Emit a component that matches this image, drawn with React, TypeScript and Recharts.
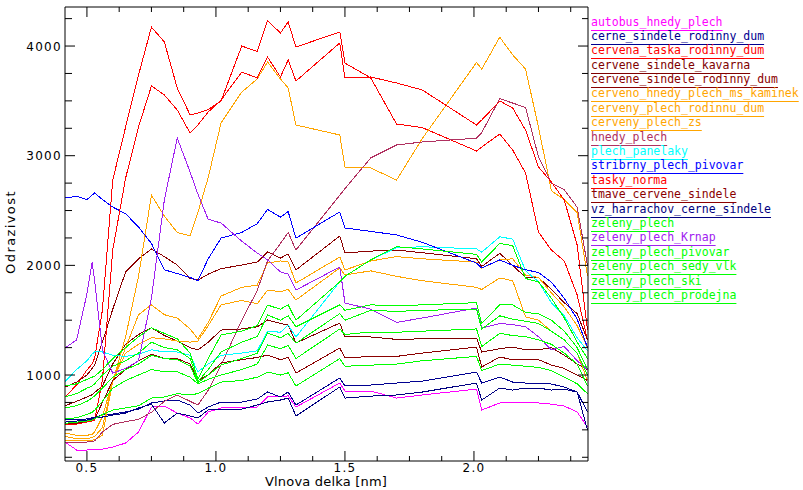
import React from 'react';
import { LineChart, Line, XAxis, YAxis } from 'recharts';

// wavelength grid [um] shared by all spectra
const wavelengths = [0.415, 0.46, 0.5, 0.52, 0.53, 0.56, 0.6, 0.65, 0.7, 0.75, 0.8, 0.85, 0.9, 0.93, 0.97, 1.02, 1.1, 1.16, 1.2, 1.25, 1.28, 1.31, 1.48, 1.5, 1.6, 1.7, 1.8, 2.01, 2.03, 2.1, 2.15, 2.2, 2.25, 2.3, 2.35, 2.4, 2.44];

const autobusHnedyPlech = [389, 316, 316, 320, 325, 325, 343, 380, 480, 708, 717, 653, 608, 553, 663, 700, 708, 708, 800, 800, 810, 708, 927, 854, 854, 790, 818, 872, 681, 745, 745, 745, 745, 735, 717, 663, 526];
const cerneSindeleRodinnyDum = [590, 590, 600, 610, 617, 635, 644, 663, 690, 745, 763, 772, 726, 653, 708, 754, 754, 781, 845, 800, 845, 726, 973, 900, 909, 927, 945, 1027, 927, 982, 936, 927, 927, 918, 890, 845, 663];
const cervenaTaskaRodinnyDum = [800, 909, 1046, 1100, 1155, 1593, 2778, 3262, 3736, 4173, 4037, 3617, 3371, 3389, 3420, 3500, 4000, 3950, 4230, 4120, 4219, 3991, 4128, 3845, 3709, 3289, 3256, 3043, 3079, 3198, 3052, 2842, 2304, 2140, 2040, 1730, 1319];
const cerveneSindeleKavarna = [720, 760, 800, 820, 840, 900, 1100, 1280, 1370, 1430, 1360, 1310, 1250, 1228, 1300, 1410, 1420, 1440, 1502, 1470, 1456, 1292, 1474, 1347, 1347, 1325, 1330, 1337, 1210, 1240, 1255, 1230, 1230, 1250, 1180, 1100, 1050];
const cerveneSindeleRodinnyDum = [890, 936, 1000, 1060, 1090, 1300, 1600, 1940, 2060, 2150, 2080, 2003, 1880, 1866, 1920, 1970, 2003, 2030, 2122, 2067, 2103, 1958, 2268, 2113, 2130, 2140, 2115, 2060, 1990, 2110, 2000, 1890, 1890, 1780, 1660, 1560, 1320];
const cervenoHnedyPlechMsKaminek = [407, 400, 400, 405, 410, 450, 940, 1350, 1900, 2640, 2450, 2300, 2270, 2480, 2800, 3300, 3580, 3700, 3855, 3700, 3617, 3280, 3189, 2897, 2888, 2778, 3157, 3850, 3790, 4080, 3920, 3790, 3262, 2680, 2600, 2480, 1900];
const cervenyPlechRodinnuDum = [470, 450, 450, 460, 480, 620, 950, 1250, 1550, 1640, 1550, 1520, 1420, 1330, 1480, 1720, 1800, 1820, 2021, 2040, 2030, 1839, 2076, 1958, 2040, 2080, 2060, 2030, 1976, 2049, 2060, 1912, 1890, 1750, 1620, 1450, 1250];
const cervenyPlechZs = [440, 420, 420, 430, 440, 520, 950, 1200, 1280, 1340, 1330, 1310, 1300, 1310, 1450, 1640, 1680, 1650, 1775, 1760, 1780, 1684, 1976, 1912, 1950, 1900, 1860, 1800, 1780, 1885, 1860, 1530, 1500, 1400, 1320, 1200, 950];
const hnedyPlech = [389, 389, 389, 392, 400, 480, 550, 575, 595, 660, 760, 818, 760, 726, 860, 1090, 1500, 1770, 2040, 2200, 2300, 2140, 2640, 2700, 2980, 3098, 3125, 3160, 3210, 3520, 3480, 3440, 2990, 2750, 2690, 2530, 2000];
const plechPanelaky = [940, 1050, 1130, 1190, 1210, 1210, 1180, 1170, 1190, 1230, 1210, 1210, 1180, 1030, 1100, 1180, 1200, 1220, 1400, 1390, 1456, 1347, 1850, 1900, 2050, 2160, 2170, 2150, 2120, 2260, 2240, 1950, 1850, 1660, 1540, 1340, 1220];
const stribrnyPlechPivovar = [2614, 2630, 2600, 2640, 2660, 2600, 2532, 2470, 2350, 2200, 1960, 1925, 1890, 1860, 2060, 2249, 2300, 2380, 2510, 2440, 2490, 2249, 2487, 2341, 2310, 2277, 2210, 2021, 1976, 2050, 2000, 1960, 1935, 1848, 1700, 1510, 1250];
const taskyNorma = [544, 553, 571, 580, 590, 954, 2140, 2797, 3262, 3636, 3554, 3417, 3207, 3280, 3398, 3508, 3763, 3709, 3900, 3718, 3873, 3681, 4028, 3709, 3718, 3663, 3599, 3280, 3325, 3499, 3435, 3234, 2897, 2760, 2596, 2186, 1410];
const tmaveCerveneSindele = [560, 560, 580, 590, 600, 750, 950, 1050, 1130, 1190, 1150, 1150, 1100, 950, 1000, 1110, 1140, 1160, 1182, 1140, 1160, 1018, 1246, 1155, 1170, 1170, 1200, 1255, 1073, 1164, 1140, 1140, 1140, 1091, 1060, 1000, 950];
const vzHarrachovCerneSindele = [571, 580, 590, 600, 608, 617, 635, 653, 699, 735, 562, 653, 626, 608, 681, 690, 690, 726, 754, 772, 790, 626, 891, 790, 808, 818, 845, 927, 772, 881, 863, 881, 881, 863, 870, 845, 498];
const zelenyPlech = [800, 830, 880, 900, 920, 1000, 1080, 1130, 1200, 1300, 1250, 1230, 1150, 940, 1050, 1210, 1300, 1350, 1547, 1500, 1540, 1440, 1640, 1590, 1640, 1630, 1640, 1660, 1470, 1640, 1640, 1570, 1560, 1500, 1400, 1250, 1050];
const zelenyPlechKrnap = [1246, 1320, 1740, 2030, 1860, 1228, 1018, 1060, 1130, 1700, 2596, 3161, 2850, 2650, 2420, 2386, 2220, 2113, 2050, 1940, 1920, 1775, 1985, 1657, 1600, 1480, 1520, 1611, 1429, 1470, 1460, 1440, 1350, 1230, 1260, 1130, 1050];
const zelenyPlechPivovar = [700, 720, 760, 790, 810, 880, 980, 1050, 1100, 1180, 1150, 1140, 1080, 930, 1000, 1091, 1150, 1200, 1383, 1340, 1380, 1290, 1560, 1500, 1590, 1580, 1590, 1600, 1420, 1540, 1510, 1490, 1470, 1400, 1320, 1200, 1000];
const zelenyPlechSedyVlk = [900, 920, 960, 980, 990, 1050, 1150, 1250, 1350, 1430, 1380, 1330, 1200, 960, 1150, 1365, 1400, 1450, 1638, 1600, 1640, 1500, 1850, 1900, 2050, 2170, 2150, 2100, 2030, 2200, 2180, 1880, 1850, 1700, 1520, 1300, 1150];
const zelenyPlechSki = [600, 610, 640, 660, 680, 760, 880, 950, 1000, 1050, 1030, 1030, 980, 920, 960, 1000, 1050, 1100, 1274, 1240, 1270, 1150, 1420, 1370, 1392, 1390, 1400, 1420, 1260, 1380, 1360, 1350, 1320, 1280, 1200, 1100, 900];
const zelenyPlechProdejna = [560, 570, 580, 590, 600, 640, 680, 700, 720, 790, 800, 830, 820, 830, 880, 936, 950, 980, 1027, 1000, 1020, 900, 1150, 1080, 1090, 1100, 1130, 1170, 1040, 1100, 1090, 1080, 1070, 1040, 980, 920, 830];

const seriesNames = [
  'autobus_hnedy_plech', 'cerne_sindele_rodinny_dum', 'cervena_taska_rodinny_dum', 'cervene_sindele_kavarna',
  'cervene_sindele_rodinny_dum', 'cerveno_hnedy_plech_ms_kaminek', 'cerveny_plech_rodinnu_dum', 'cerveny_plech_zs',
  'hnedy_plech', 'plech_panelaky', 'stribrny_plech_pivovar', 'tasky_norma', 'tmave_cervene_sindele',
  'vz_harrachov_cerne_sindele', 'zeleny_plech', 'zeleny_plech_Krnap', 'zeleny_plech_pivovar',
  'zeleny_plech_sedy_vlk', 'zeleny_plech_ski', 'zeleny_plech_prodejna',
];

const seriesValues = [
  autobusHnedyPlech, cerneSindeleRodinnyDum, cervenaTaskaRodinnyDum, cerveneSindeleKavarna,
  cerveneSindeleRodinnyDum, cervenoHnedyPlechMsKaminek, cervenyPlechRodinnuDum, cervenyPlechZs,
  hnedyPlech, plechPanelaky, stribrnyPlechPivovar, taskyNorma, tmaveCerveneSindele,
  vzHarrachovCerneSindele, zelenyPlech, zelenyPlechKrnap, zelenyPlechPivovar,
  zelenyPlechSedyVlk, zelenyPlechSki, zelenyPlechProdejna,
];

const lineColors = [
  '#ff00ff', '#000090', '#ff0000', '#800000',
  '#8b0000', '#ffa500', '#ffa500', '#ffa500',
  '#b03060', '#00ffff', '#0000ff', '#ff0000', '#8b0000',
  '#000080', '#00ff00', '#a020f0', '#00ff00',
  '#00ff00', '#00ff00', '#00ff00',
];

const xTicks = [0.5, 0.625, 0.75, 0.875, 1, 1.125, 1.25, 1.375, 1.5, 1.625, 1.75, 1.875, 2, 2.125, 2.25, 2.375];
const yTicks = [250, 500, 750, 1000, 1250, 1500, 1750, 2000, 2250, 2500, 2750, 3000, 3250, 3500, 3750, 4000, 4250];

const rows = wavelengths.map((w, i) => {
  const row: Record<string, number> = { w };
  seriesNames.forEach((n, k) => { row[n] = seriesValues[k][i]; });
  return row;
});

const tickFont = { fontFamily: 'DejaVu Sans', fontSize: 12, letterSpacing: 1.3, fill: '#000' };

const isMajorX = (v: number) => Math.abs(v * 2 - Math.round(v * 2)) < 1e-6;
const isMajorY = (v: number) => v % 1000 === 0;

const BottomTick = (p: any) => {
  const { x, y, payload } = p;
  const major = isMajorX(payload.value);
  return (
    <g>
      <line x1={x} x2={x} y1={y} y2={y - (major ? 10 : 5)} stroke="#000" />
      {major && <text x={x} y={y + 11} textAnchor="middle" style={tickFont}>{payload.value.toFixed(1)}</text>}
    </g>
  );
};

const TopTick = (p: any) => {
  const { x, y, payload } = p;
  const major = isMajorX(payload.value);
  return <line x1={x} x2={x} y1={y} y2={y + (major ? 10 : 5)} stroke="#000" />;
};

const LeftTick = (p: any) => {
  const { x, y, payload } = p;
  const major = isMajorY(payload.value);
  return (
    <g>
      <line x1={x} x2={x + (major ? 10 : 7)} y1={y} y2={y} stroke="#000" />
      {major && <text x={x - 3} y={y + 4.5} textAnchor="end" style={tickFont}>{payload.value}</text>}
    </g>
  );
};

const RightTick = (p: any) => {
  const { x, y, payload } = p;
  const major = isMajorY(payload.value);
  return <line x1={x} x2={x - (major ? 10 : 6)} y1={y} y2={y} stroke="#000" />;
};

const App: React.FC = () => {
  return (
    <div style={{ position: 'absolute', left: 0, top: 0, width: 803, height: 490, background: '#fff' }}>
      <LineChart width={803} height={490} data={rows} margin={{ top: 0, right: 0, bottom: 0, left: 0 }}>
        <XAxis dataKey="w" type="number" domain={[0.415, 2.442]} allowDataOverflow ticks={xTicks} interval={0}
          height={29} tickSize={0} tickMargin={0} tickLine={false} tick={BottomTick} axisLine={{ stroke: '#000' }} />
        <XAxis xAxisId="t" orientation="top" dataKey="w" type="number" domain={[0.415, 2.442]} allowDataOverflow ticks={xTicks} interval={0}
          height={7} tickSize={0} tickMargin={0} tickLine={false} tick={TopTick} axisLine={{ stroke: '#000' }} />
        <YAxis type="number" domain={[216, 4356]} allowDataOverflow ticks={yTicks} interval={0}
          width={65} tickSize={0} tickMargin={0} tickLine={false} tick={LeftTick} axisLine={{ stroke: '#000' }} />
        <YAxis yAxisId="r" orientation="right" type="number" domain={[216, 4356]} allowDataOverflow ticks={yTicks} interval={0}
          width={215} tickSize={0} tickMargin={0} tickLine={false} tick={RightTick} axisLine={{ stroke: '#000' }} />
        {seriesNames.map((n, k) => (
          <Line key={n} dataKey={n} name={n} type="linear" stroke={lineColors[k]} strokeWidth={1}
            dot={false} activeDot={false} isAnimationActive={false} shapeRendering="crispEdges" />
        ))}
      </LineChart>

      <svg width={803} height={490} style={{ position: 'absolute', left: 0, top: 0, pointerEvents: 'none' }}>
        <text transform="translate(15,232) rotate(-90)" textAnchor="middle"
          style={{ fontFamily: 'DejaVu Sans', fontSize: 13, letterSpacing: 1.4, fill: '#000' }}>Odrazivost</text>
        <text x={326} y={486} textAnchor="middle"
          style={{ fontFamily: 'DejaVu Sans', fontSize: 13, letterSpacing: 0.2, fill: '#000' }}>Vlnova delka [nm]</text>
      </svg>

      {/* legend: underlined names in series colour */}
      <div style={{ position: 'absolute', left: 591, top: 14.5, fontFamily: 'DejaVu Sans Mono', fontSize: 11.5 }}>
        {seriesNames.map((n, k) => (
          <div key={n} style={{ height: 14.4, lineHeight: '14.4px', color: lineColors[k], whiteSpace: 'nowrap' }}>
            <span style={{ textDecoration: 'underline', textUnderlineOffset: 4 }}>{n}</span>
          </div>
        ))}
      </div>
    </div>
  );
};

export default App;
